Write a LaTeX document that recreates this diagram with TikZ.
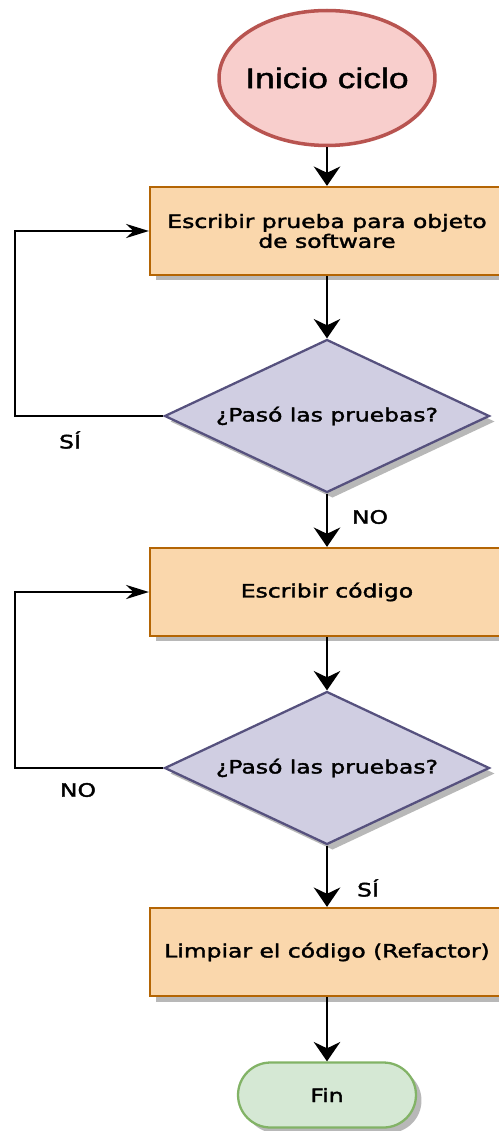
\documentclass[tikz,border=0pt]{standalone}
\usepackage{fontspec}
\usepackage{tikz}
\usetikzlibrary{shapes.geometric,shadows,arrows.meta}

\newfontfamily\cajafont[FakeStretch=1.27,FakeBold=2]{DejaVu Sans}
\newfontfamily\iniciofont[FakeStretch=1.26,FakeBold=1.5]{Liberation Sans}

\definecolor{rosa}{HTML}{F8CECC}
\definecolor{rosaborde}{HTML}{B85450}
\definecolor{naranja}{HTML}{FAD7AC}
\definecolor{naranjaborde}{HTML}{B46504}
\definecolor{lila}{HTML}{D0CEE2}
\definecolor{lilaborde}{HTML}{56517E}
\definecolor{verde}{HTML}{D5E8D4}
\definecolor{verdeborde}{HTML}{82B366}

\begin{document}
\begin{tikzpicture}[x=0.02cm,y=-0.02cm,
    sombra/.style={drop shadow={shadow xshift=1.1mm,shadow yshift=-1.1mm,fill=black!28,opacity=1}},
    texto/.style={font=\cajafont\fontsize{10.5}{11.3}\selectfont},
    caja/.style={rectangle,draw=naranjaborde,fill=naranja,line width=1.3pt,minimum width=70.8mm,minimum height=17.6mm,sombra,texto,align=center},
    decision/.style={diamond,draw=lilaborde,fill=lila,line width=1.3pt,aspect=2.12,minimum width=65mm,minimum height=30.6mm,inner sep=0pt,sombra,texto},
    flecha/.style={line width=1.6pt,-{Stealth[length=11pt,width=15pt]}},
    flechalat/.style={line width=1.6pt,-{Stealth[length=13pt,width=8pt]}}]
    \useasboundingbox (0,0) rectangle (498,1131);
    \node[ellipse,draw=rosaborde,fill=rosa,line width=2pt,inner xsep=-6pt,minimum width=43.2mm,minimum height=27mm,font=\iniciofont\fontsize{16}{18}\selectfont] (inicio) at (327,78) {Inicio ciclo};
    \node[caja] (prueba) at (327,231) {Escribir prueba para objeto\\de software};
    \node[decision] (paso1) at (327,416) {¿Pasó las pruebas?};
    \node[caja] (codigo) at (327,592) {Escribir código};
    \node[decision] (paso2) at (327,768) {¿Pasó las pruebas?};
    \node[caja] (limpiar) at (327,952) {Limpiar el código (Refactor)};
    \node[rectangle,rounded corners=6.5mm,draw=verdeborde,fill=verde,line width=1.3pt,minimum width=35.6mm,minimum height=13mm,sombra,texto] (fin) at (327,1095) {Fin};
    \coordinate (izq1) at (15,416);
    \coordinate (izq2) at (15,768);
    % conectores
    \draw[flecha] (inicio) -- (prueba);
    \draw[flecha] (prueba) -- (paso1);
    \draw[flecha] (paso1) -- (codigo);
    \draw[flecha] (codigo) -- (paso2);
    \draw[flecha] (paso2) -- (limpiar);
    \draw[flecha] (limpiar) -- (fin);
    \draw[flechalat] (paso1.west) -- (izq1) |- (prueba.west);
    \draw[flechalat] (paso2.west) -- (izq2) |- (codigo.west);
    % etiquetas
    \node[texto] (si1) at (70,440) {SÍ};
    \node[texto] (no1) at (370,517) {NO};
    \node[texto] (no2) at (78,790) {NO};
    \node[texto] (si2) at (368,888) {SÍ};
\end{tikzpicture}
\end{document}
